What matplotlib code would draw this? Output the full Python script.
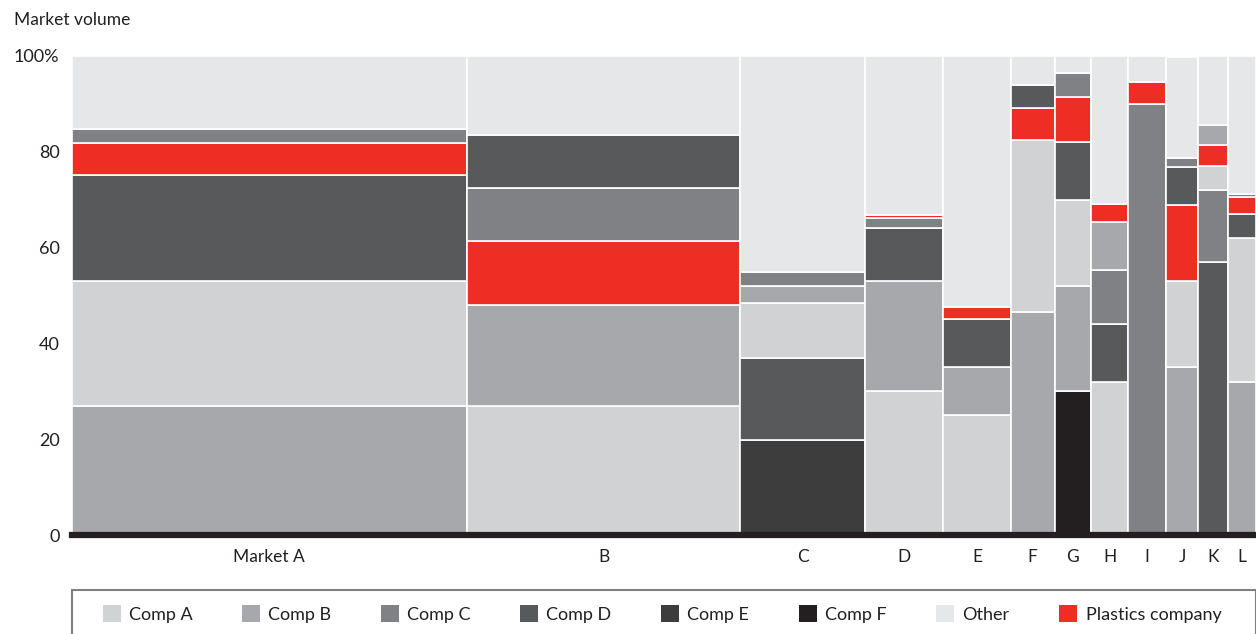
import numpy as np
import matplotlib.pyplot as plt
from matplotlib.patches import Patch, Rectangle

plt.rcParams['font.family'] = ['Lato', 'DejaVu Sans']

# markets and their share of total volume (column widths, %)
markets = ['Market A', 'B', 'C', 'D', 'E', 'F', 'G', 'H', 'I', 'J', 'K', 'L']
widths = [33.3, 23.1, 10.5, 6.6, 5.7, 3.7, 3.1, 3.1, 3.2, 2.7, 2.5, 2.4]

# market share of each player in each market (%)
comp_a   = [26.0, 27.0, 11.4, 30.0, 25.0, 35.9, 18.0, 32.0, 0.0, 18.0, 5.0, 30.0]
comp_b   = [27.0, 21.0, 3.6, 23.0, 10.0, 46.6, 22.0, 10.0, 0.0, 35.0, 4.0, 32.0]
comp_c   = [3.0, 11.1, 3.0, 2.2, 0.0, 0.0, 5.1, 11.4, 90.0, 2.0, 15.0, 0.7]
comp_d   = [22.2, 11.1, 17.2, 11.0, 10.0, 4.8, 12.0, 12.0, 0.0, 8.0, 57.0, 5.0]
comp_e   = [0.0, 0.0, 19.8, 0.0, 0.0, 0.0, 0.0, 0.0, 0.0, 0.0, 0.0, 0.0]
comp_f   = [0.0, 0.0, 0.0, 0.0, 0.0, 0.0, 30.0, 0.0, 0.0, 0.0, 0.0, 0.0]
plastics = [6.6, 13.4, 0.0, 0.7, 2.5, 6.7, 9.4, 3.7, 4.5, 15.8, 4.5, 3.5]
other    = [15.2, 16.3, 45.0, 33.1, 52.5, 6.0, 3.5, 31.0, 5.5, 21.0, 14.5, 28.8]

# stacking order (bottom -> top) in each market
stack_order = [
    ['B', 'A', 'D', 'P', 'C', 'O'],
    ['A', 'B', 'P', 'C', 'D', 'O'],
    ['E', 'D', 'A', 'B', 'C', 'O'],
    ['A', 'B', 'D', 'C', 'P', 'O'],
    ['A', 'B', 'D', 'P', 'O'],
    ['B', 'A', 'P', 'D', 'O'],
    ['F', 'B', 'A', 'D', 'P', 'C', 'O'],
    ['A', 'D', 'C', 'B', 'P', 'O'],
    ['C', 'P', 'O'],
    ['B', 'A', 'P', 'D', 'C', 'O'],
    ['D', 'C', 'A', 'P', 'B', 'O'],
    ['B', 'A', 'D', 'P', 'C', 'O'],
]

series = {'A': comp_a, 'B': comp_b, 'C': comp_c, 'D': comp_d,
          'E': comp_e, 'F': comp_f, 'O': other, 'P': plastics}
colors = {'A': '#d1d2d4', 'B': '#a7a8ab', 'C': '#808184', 'D': '#58595b',
          'E': '#3d3d3e', 'F': '#231f20', 'O': '#e6e7e8', 'P': '#ee2e24'}
labels = {'A': 'Comp A', 'B': 'Comp B', 'C': 'Comp C', 'D': 'Comp D',
          'E': 'Comp E', 'F': 'Comp F', 'O': 'Other', 'P': 'Plastics company'}

fig = plt.figure(figsize=(12.56, 6.34), dpi=100)
ax = fig.add_axes([72/1256, 1 - 535/634, 1184/1256, 479/634])

lefts = np.concatenate([[0], np.cumsum(widths)[:-1]])
total = sum(widths)
for i, m in enumerate(markets):
    bottom = 0
    for key in stack_order[i]:
        v = series[key][i]
        if v <= 0:
            continue
        ax.bar(lefts[i], v, width=widths[i], bottom=bottom, align='edge',
               color=colors[key], edgecolor='white', linewidth=1.2)
        bottom += v

ax.axhline(0, color='#231f20', lw=4.5, zorder=5, clip_on=False)

ax.set_xlim(0, total)
ax.set_ylim(0, 100)
ax.set_xticks(lefts + np.array(widths) / 2)
ax.set_xticklabels(markets, fontsize=12.5, color='#231f20')
ax.set_yticks([0, 20, 40, 60, 80, 100])
ax.set_yticklabels(['0', '20', '40', '60', '80', '100%'], fontsize=13, color='#231f20')
ax.tick_params(length=0, pad=9)
ax.tick_params(axis='x', pad=10)
for s in ax.spines.values():
    s.set_visible(False)

fig.text(14/1256, 1 - 20/634, 'Market volume', fontsize=12.5, va='center', ha='left',
         color='#231f20')

# legend box (bottom edge runs off the canvas)
fig.patches.append(Rectangle((72/1256, -10/634), 1184/1256, 54/634,
                             transform=fig.transFigure, facecolor='none',
                             edgecolor='#808184', linewidth=1.5))

order = ['A', 'B', 'C', 'D', 'E', 'F', 'O', 'P']
handles = [Patch(facecolor=colors[k], edgecolor='none', label=labels[k]) for k in order]
leg = fig.legend(handles=handles, ncol=8, loc='center',
                 bbox_to_anchor=(662/1256, 1 - 614/634), frameon=False,
                 fontsize=13, handlelength=1.0, handleheight=1.0,
                 handletextpad=0.45, columnspacing=2.75, borderpad=0)
for t in leg.get_texts():
    t.set_color('#231f20')

fig.savefig('out.png', dpi=100)
